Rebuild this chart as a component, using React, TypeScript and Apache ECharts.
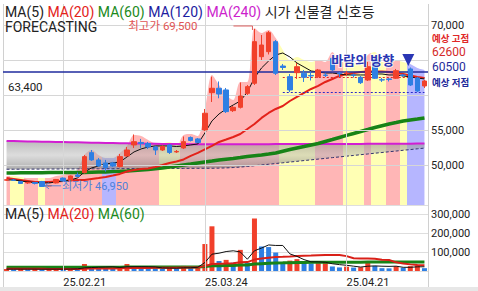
import React, { useEffect, useRef } from "react";
import * as echarts from "echarts";

const FONT = 'Roboto, "Noto Sans CJK KR", "Noto Sans", sans-serif';

const dates = [
  "25.02.11", "25.02.12", "25.02.13", "25.02.14", "25.02.17", "25.02.18", "25.02.19", "25.02.20",
  "25.02.21", "25.02.24", "25.02.25", "25.02.26", "25.02.27", "25.02.28",
  "25.03.04", "25.03.05", "25.03.06", "25.03.07", "25.03.10", "25.03.11", "25.03.12", "25.03.13", "25.03.14",
  "25.03.17", "25.03.18", "25.03.19", "25.03.20", "25.03.21", "25.03.24", "25.03.25", "25.03.26", "25.03.27",
  "25.03.28", "25.03.31", "25.04.01", "25.04.02", "25.04.03", "25.04.04", "25.04.07", "25.04.08", "25.04.09",
  "25.04.10", "25.04.11", "25.04.14", "25.04.15", "25.04.16", "25.04.17", "25.04.18", "25.04.21", "25.04.22",
  "25.04.23", "25.04.24", "25.04.25", "25.04.28", "25.04.29", "25.04.30", "25.05.02", "25.05.07", "25.05.08",
  "25.05.09",
];

// [open, close, low, high]
const ohlc: number[][] = [
  [47900, 47950, 47790, 48070], [47930, 47880, 47790, 48070], [47710, 47430, 47360, 47790],
  [47500, 47570, 47360, 47640], [47570, 47430, 47290, 47640], [47710, 47000, 46950, 47790],
  [47070, 47140, 46990, 47210], [47500, 48000, 47430, 48070], [48200, 47790, 47710, 48290],
  [47860, 48500, 47790, 48570], [48640, 48430, 48360, 49000], [48970, 51260, 48860, 51500],
  [51830, 50790, 50640, 52210], [50790, 49930, 49790, 51070], [50360, 49700, 49110, 50790],
  [50360, 49930, 49790, 50500], [49860, 51260, 49710, 51640], [51360, 52210, 51210, 52640],
  [52930, 53400, 52500, 54430], [53290, 53140, 52500, 53790], [53140, 52640, 52360, 53360],
  [52640, 52210, 51500, 52790], [52210, 52710, 52070, 52860], [52930, 51860, 51640, 53070],
  [51930, 52000, 51790, 52210], [52500, 53400, 52360, 54140], [54000, 53570, 53430, 54140],
  [53790, 53290, 53210, 53930], [55070, 57460, 54930, 58070], [60400, 61030, 59070, 62690],
  [61030, 60210, 59600, 62000], [60790, 57690, 57500, 61070], [57830, 58310, 57640, 58500],
  [58310, 59930, 58140, 61860], [60310, 61260, 60070, 61500], [61740, 67690, 61500, 69500],
  [65540, 67210, 65070, 68640], [66260, 68970, 65860, 69210], [67690, 63170, 62930, 67930],
  [64210, 64000, 63640, 64500], [62690, 60790, 60500, 63070], [63260, 64110, 62360, 64640],
  [63170, 62600, 61930, 63640], [62860, 62790, 62140, 63430], [62690, 63640, 62500, 63790],
  [62930, 62860, 62640, 63210], [65310, 63640, 63500, 65500], [63210, 63140, 62640, 63360],
  [63140, 63210, 62790, 63500], [62930, 62860, 62570, 63140], [62600, 61830, 61640, 62790],
  [62210, 64110, 62070, 64790], [65070, 62460, 62360, 65360], [62250, 62210, 61930, 62500],
  [62360, 62290, 62000, 62500], [62460, 63540, 62360, 63790], [62930, 62860, 62640, 63070],
  [63790, 61500, 61360, 64000], [62500, 60640, 60500, 62640], [61360, 62070, 61070, 62210],
];

const ma5 = [
  47930, 47930, 47790, 47640, 47570, 47500, 47500, 47640, 47790, 47930,
  48210, 49070, 49640, 49930, 50210, 50360, 50500, 51210, 51930, 52360,
  52640, 52790, 52790, 52790, 52710, 52790, 52930, 53070, 54640, 56360,
  57360, 58070, 58640, 59210, 60500, 62500, 63930, 64930, 65790, 66070,
  65500, 64640, 64070, 63500, 63360, 63210, 63210, 63070, 62930, 62930,
  62930, 62930, 63070, 63070, 62930, 62930, 62790, 62640, 62500, 62360,
];
const ma20 = [
  48210, 48070, 47930, 47790, 47640, 47640, 47640, 47710, 47790, 47860,
  47930, 47930, 48070, 48210, 48360, 48570, 48790, 49140, 49360, 49500,
  49570, 49790, 50070, 50360, 50570, 50860, 51360, 51790, 52290, 52790,
  53360, 53710, 54070, 54500, 55210, 55930, 56790, 57500, 58070, 58500,
  59210, 59790, 60360, 60930, 61360, 61930, 62360, 62790, 63070, 63210,
  63360, 63430, 63430, 63430, 63360, 63210, 63070, 62860, 62640, 62500,
];
const ma60 = [
  48930, 48930, 48950, 48960, 48970, 48970, 48980, 48990, 49000, 49000,
  49000, 49010, 49030, 49050, 49070, 49120, 49160, 49210, 49280, 49360,
  49430, 49540, 49640, 49790, 49930, 50070, 50210, 50360, 50500, 50640,
  50790, 50900, 51000, 51140, 51290, 51400, 51500, 51640, 51790, 52040,
  52290, 52500, 52710, 52930, 53140, 53430, 53710, 54000, 54290, 54570,
  54860, 55140, 55430, 55680, 55930, 56140, 56360, 56500, 56640, 56790,
];
const ma120 = [
  49460, 49460, 49470, 49470, 49480, 49480, 49490, 49490, 49500, 49500,
  49510, 49510, 49520, 49520, 49530, 49530, 49540, 49540, 49550, 49550,
  49560, 49560, 49570, 49570, 49580, 49580, 49590, 49590, 49600, 49600,
  49620, 49650, 49700, 49770, 49860, 49960, 50070, 50170, 50280, 50380,
  50490, 50590, 50700, 50800, 50910, 51010, 51120, 51220, 51330, 51430,
  51540, 51640, 51750, 51850, 51960, 52060, 52170, 52270, 52380, 52480,
];
const ma240 = [
  53500, 53480, 53460, 53440, 53420, 53400, 53380, 53360, 53340, 53320,
  53300, 53280, 53260, 53240, 53220, 53200, 53180, 53160, 53140, 53120,
  53100, 53090, 53080, 53070, 53060, 53050, 53040, 53040, 53030, 53030,
  53030, 53030, 53030, 53030, 53040, 53040, 53040, 53040, 53050, 53050,
  53050, 53050, 53060, 53060, 53060, 53070, 53070, 53070, 53080, 53080,
  53080, 53090, 53090, 53090, 53100, 53100, 53110, 53110, 53120, 53120,
];
// upper edge of the coloured signal area
const signalEnvelope = [
  48500, 48500, 48360, 48210, 48210, 48210, 48210, 48500, 48640, 48930,
  49360, 51500, 52210, 51500, 51070, 51070, 51790, 52790, 54360, 54210,
  53640, 53210, 53210, 53360, 52930, 54360, 54500, 54210, 57930, 62930,
  61500, 60070, 59360, 61930, 61930, 69640, 68930, 69360, 68210, 66500,
  65070, 65500, 65070, 64790, 65070, 64790, 66210, 64790, 64790, 64640,
  64360, 65790, 66210, 64790, 64790, 65070, 64790, 64500, 63930, 63640,
];
// [firstIndex, lastIndex, signal]
const signalSegments: [number, number, string][] = [
  [0, 0, "red"], [1, 2, "yellow"], [3, 4, "red"], [5, 5, "yellow"], [6, 13, "red"],
  [14, 15, "blue"], [16, 21, "red"], [22, 24, "yellow"], [25, 38, "red"], [39, 43, "yellow"],
  [44, 47, "red"], [48, 50, "yellow"], [51, 51, "red"], [52, 53, "yellow"], [54, 55, "red"],
  [56, 56, "yellow"], [57, 59, "blue"],
];

const volumes = [
  10000, 8000, 12000, 9000, 11000, 8000, 10000, 12000, 9000, 13000,
  12000, 37000, 20000, 19000, 18000, 17000, 20000, 37000, 22000, 18000,
  16000, 14000, 12000, 18000, 15000, 27000, 15000, 24000, 143000, 237000,
  53000, 59000, 44000, 112000, 44000, 278000, 130000, 127000, 98000, 44000,
  55000, 63000, 42000, 40000, 42000, 44000, 24000, 19000, 23000, 18000,
  20000, 47000, 27000, 15000, 14000, 25000, 17000, 26000, 29000, 15000,
];
const volMa5 = [
  10000, 10000, 10000, 10000, 10000, 9600, 10000, 10000, 10000, 10400,
  11200, 16600, 18200, 20200, 21200, 22200, 18800, 22200, 22800, 22800,
  22600, 21400, 16400, 15600, 15000, 17200, 17400, 19800, 44800, 89200,
  94400, 103200, 107200, 101000, 62400, 107400, 121600, 138200, 135400, 135400,
  90800, 77400, 60400, 48800, 48400, 46200, 38400, 33800, 30400, 25600,
  20800, 25400, 27000, 25400, 24600, 25600, 19600, 19400, 22200, 22400,
];
const volMa20 = [
  11900, 11700, 11700, 11550, 11500, 11300, 11200, 11200, 11050, 11100,
  11100, 12350, 12750, 13100, 13400, 13650, 14050, 15300, 15800, 16100,
  16400, 16700, 16700, 17150, 17350, 18300, 18550, 19150, 25850, 37050,
  39100, 40200, 41400, 46050, 47350, 60400, 65900, 70400, 74200, 75500,
  77450, 79900, 81400, 82500, 83850, 84700, 85150, 84900, 78900, 67950,
  66300, 65700, 64850, 60000, 58500, 45850, 40200, 35150, 31700, 30250,
];
const volMa60 = [
  20000, 20000, 20000, 20000, 20000, 20000, 20000, 20000, 20000, 20000,
  20000, 20000, 20500, 20500, 20500, 20500, 20500, 21000, 21000, 21000,
  21000, 21000, 21000, 21000, 21000, 21000, 21500, 21500, 23500, 27500,
  28300, 29200, 29800, 31600, 32200, 36800, 38900, 41000, 42600, 43200,
  44000, 44900, 45400, 45800, 46200, 46700, 46800, 46800, 46900, 46900,
  47000, 47500, 47700, 47700, 47600, 47800, 47800, 47900, 48100, 48000,
];

const labelDates = ["25.02.21", "25.03.24", "25.04.21"];
const priceGridLevels = [50000, 55000, 60000, 65000, 70000];
const priceAxisLabels = [70000, 55000, 50000];
const highIndex = 35;
const highPrice = 69500;
const lowIndex = 5;
const lowPrice = 46950;
const resistancePrice = 63400;
const expectedHigh = 62600;
const expectedLow = 60500;
const forecastFrom = 39;
const windText = "바람의 방향";
const windIndex = 57;

const fmt = (v: number) => v.toLocaleString("en-US");

export default function App() {
  const ref = useRef<HTMLDivElement>(null);

  useEffect(() => {
    const el = ref.current!;
    const chart = echarts.init(el, null, { renderer: "svg" });
    const RED = "#f1402b";
    const BLUE = "#2f7fe3";
    const signalColors: Record<string, string> = { red: "#ffb6b6", yellow: "#ffffb4", blue: "#b6b6ff" };
    const n = dates.length;
    const stops: { offset: number; color: string }[] = [];
    signalSegments.forEach(([a, b, k]) => {
      const s = a === 0 ? 0 : (a - 0.5) / (n - 1);
      const e = b === n - 1 ? 1 : (b + 0.5) / (n - 1);
      stops.push({ offset: s, color: signalColors[k] }, { offset: e, color: signalColors[k] });
    });
    const cloudDiff = ma240.map((v, i) => v - ma120[i]);
    const volData = volumes.map((v, i) => ({
      value: v,
      itemStyle: { color: i === 0 || v > volumes[i - 1] ? RED : BLUE },
    }));

    const option: any = {
      animation: false,
      textStyle: { fontFamily: FONT },
      grid: [
        { left: 3, right: 50, top: 4, height: 201, containLabel: false, outerBoundsMode: "none" },
        { left: 3, right: 50, top: 205, height: 66, containLabel: false, outerBoundsMode: "none" },
      ],
      xAxis: [
        {
          type: "category", gridIndex: 0, data: dates, boundaryGap: true,
          axisLine: { show: false }, axisTick: { show: false }, axisLabel: { show: false }, splitLine: { show: false },
        },
        {
          type: "category", gridIndex: 1, data: dates, boundaryGap: true,
          axisLine: { show: false }, axisTick: { show: false }, splitLine: { show: false },
          axisLabel: {
            show: true,
            interval: (_i: number, v: string) => labelDates.includes(v),
            align: "left", color: "#222", fontSize: 11, margin: 6, fontFamily: FONT,
          },
        },
      ],
      yAxis: [
        {
          type: "value", gridIndex: 0, position: "right", min: 44350, max: 73070, scale: true,
          axisLine: { show: false }, axisTick: { show: false }, axisLabel: { show: false }, splitLine: { show: false },
        },
        {
          type: "value", gridIndex: 1, position: "right", min: 0, max: 350000, interval: 100000,
          axisLine: { show: false }, axisTick: { show: false },
          splitLine: { show: true, lineStyle: { color: "#dedede", width: 1 } },
          axisLabel: {
            color: "#222", fontSize: 11, margin: 3, fontFamily: FONT,
            formatter: (v: number) => (v > 0 && v <= 300000 ? fmt(v) : ""),
          },
        },
      ],
      series: [
        {
          type: "line", xAxisIndex: 0, yAxisIndex: 0, data: signalEnvelope, smooth: 0.3,
          symbol: "none", silent: true, z: 1,
          lineStyle: { width: 0, opacity: 0 },
          areaStyle: { origin: "start", opacity: 1, color: new echarts.graphic.LinearGradient(0, 0, 1, 0, stops) },
          markLine: {
            silent: true, symbol: ["none", "none"], animation: false,
            lineStyle: { color: "#d6d6d6", width: 1, type: "solid" },
            label: { show: false },
            data: [
              ...priceGridLevels.map((v) => ({
                yAxis: v,
                label: {
                  show: priceAxisLabels.includes(v), position: "end", formatter: fmt(v),
                  color: "#222", fontSize: 11, fontFamily: FONT, distance: 3,
                },
              })),
              ...labelDates.map((d) => ({ xAxis: d })),
            ],
          },
        },
        {
          type: "line", xAxisIndex: 0, yAxisIndex: 0, data: ma120, stack: "cloud", symbol: "none", z: 3,
          silent: true, lineStyle: { color: "#34346e", width: 1, type: [3, 2] },
        },
        {
          type: "line", xAxisIndex: 0, yAxisIndex: 0, data: cloudDiff, stack: "cloud", symbol: "none", z: 2,
          silent: true, lineStyle: { width: 0, opacity: 0 },
          areaStyle: {
            opacity: 1,
            color: new echarts.graphic.LinearGradient(0, 0, 0, 1, [
              { offset: 0, color: "rgba(140,140,140,0.6)" },
              { offset: 0.5, color: "rgba(185,185,185,0.5)" },
              { offset: 1, color: "rgba(120,120,120,0.6)" },
            ]),
          },
        },
        {
          type: "line", xAxisIndex: 0, yAxisIndex: 0, data: ma240, symbol: "none", z: 4, silent: true,
          lineStyle: { color: "#d21ed2", width: 2 },
        },
        {
          type: "line", xAxisIndex: 0, yAxisIndex: 0, data: ma60, symbol: "none", z: 4, silent: true,
          lineStyle: { color: "#178317", width: 3.5 },
        },
        {
          type: "line", xAxisIndex: 0, yAxisIndex: 0, data: ma20, symbol: "none", z: 4, silent: true,
          lineStyle: { color: "#e3221a", width: 2 },
        },
        {
          type: "line", xAxisIndex: 0, yAxisIndex: 0, data: ma5, symbol: "none", z: 4, silent: true,
          lineStyle: { color: "#111", width: 1 },
          markLine: {
            silent: true, symbol: ["none", "none"], animation: false, label: { show: false },
            data: [
              { yAxis: resistancePrice, lineStyle: { color: "#1f2b9e", width: 1.6, type: "solid" } },
              [
                { coord: [dates[forecastFrom], expectedHigh], lineStyle: { color: "#e02a2a", width: 1, type: [2, 2] } },
                { coord: [dates[n - 1], expectedHigh], lineStyle: { color: "#e02a2a", width: 1, type: [2, 2] } },
              ],
              [
                { coord: [dates[forecastFrom], expectedLow], lineStyle: { color: "#2a2ac8", width: 1, type: [2, 2] } },
                { coord: [dates[n - 1], expectedLow], lineStyle: { color: "#2a2ac8", width: 1, type: [2, 2] } },
              ],
            ],
          },
        },
        {
          type: "candlestick", xAxisIndex: 0, yAxisIndex: 0, data: ohlc, barWidth: 5, z: 5, silent: true,
          itemStyle: { color: RED, color0: BLUE, borderColor: RED, borderColor0: BLUE, borderWidth: 1 },
        },
        {
          type: "bar", xAxisIndex: 1, yAxisIndex: 1, data: volData, barWidth: 5, z: 3, silent: true,
          markLine: {
            silent: true, symbol: ["none", "none"], animation: false, label: { show: false },
            lineStyle: { color: "#d6d6d6", width: 1, type: "solid" },
            data: labelDates.map((d) => ({ xAxis: d })),
          },
        },
        {
          type: "line", xAxisIndex: 1, yAxisIndex: 1, data: volMa60, symbol: "none", z: 4, silent: true,
          lineStyle: { color: "#178317", width: 3 },
        },
        {
          type: "line", xAxisIndex: 1, yAxisIndex: 1, data: volMa20, symbol: "none", z: 4, silent: true,
          lineStyle: { color: "#d92018", width: 2 },
        },
        {
          type: "line", xAxisIndex: 1, yAxisIndex: 1, data: volMa5, symbol: "none", z: 4, silent: true,
          lineStyle: { color: "#111", width: 1 },
        },
      ],
    };
    chart.setOption(option);

    const toPx = (i: number, v: number) =>
      chart.convertToPixel({ xAxisIndex: 0, yAxisIndex: 0 }, [dates[i], v]) as number[];
    const hp = toPx(highIndex, highPrice);
    const lp = toPx(lowIndex, lowPrice);
    const wp = toPx(windIndex, ohlc[windIndex][3]);

    const legendRich = {
      k: { fill: "#222", fontSize: 14, lineHeight: 14, fontFamily: FONT },
      r: { fill: "#e3221a", fontSize: 14, lineHeight: 14, fontFamily: FONT },
      g: { fill: "#1b8a1b", fontSize: 14, lineHeight: 14, fontFamily: FONT },
      b: { fill: "#1c1ca0", fontSize: 14, lineHeight: 14, fontFamily: FONT },
      m: { fill: "#cc1fcc", fontSize: 14, lineHeight: 14, fontFamily: FONT },
    };

    const elements: any[] = [
      { type: "rect", shape: { x: 0, y: 287, width: 478, height: 4 }, style: { fill: "#e7e7e7" }, silent: true },
      { type: "line", shape: { x1: 3.5, y1: 4, x2: 3.5, y2: 287 }, style: { stroke: "#d0d0d0", lineWidth: 1 }, silent: true },
      { type: "line", shape: { x1: 428.5, y1: 4, x2: 428.5, y2: 287 }, style: { stroke: "#d0d0d0", lineWidth: 1 }, silent: true },
      {
        type: "text", x: 5, y: 12, z: 50, silent: true,
        style: {
          text: "{k|MA(5)} {r|MA(20)} {g|MA(60)} {b|MA(120)} {m|MA(240)} {k|시가 신물결 신호등}",
          rich: legendRich, fontSize: 14, lineHeight: 14, fontFamily: FONT, verticalAlign: "middle", align: "left",
        },
      },
      {
        type: "text", x: 5, y: 26.5, z: 50, silent: true,
        style: { text: "FORECASTING", fill: "#222", fontSize: 14, lineHeight: 14, fontFamily: FONT, verticalAlign: "middle", align: "left" },
      },
      {
        type: "text", x: hp[0] - 57, y: hp[1] - 3, z: 50, silent: true,
        style: { text: "최고가 " + fmt(highPrice), fill: "#e05555", fontSize: 11.5, fontFamily: FONT, verticalAlign: "middle", align: "right" },
      },
      {
        type: "polyline", z: 50, silent: true,
        shape: { points: [[hp[0] - 21, hp[1] - 3], [hp[0] - 2, hp[1] - 3], [hp[0] - 2, hp[1] + 1]] },
        style: { stroke: "#e06060", lineWidth: 1, fill: null },
      },
      {
        type: "line", z: 50, silent: true,
        shape: { x1: lp[0] + 19, y1: lp[1] - 1, x2: lp[0] + 3, y2: lp[1] - 1 },
        style: { stroke: "#5a86d8", lineWidth: 1 },
      },
      {
        type: "polyline", z: 50, silent: true,
        shape: { points: [[lp[0] + 7, lp[1] - 4], [lp[0] + 3, lp[1] - 1], [lp[0] + 7, lp[1] + 2]] },
        style: { stroke: "#5a86d8", lineWidth: 1, fill: null },
      },
      {
        type: "text", x: lp[0] + 20, y: lp[1], z: 50, silent: true,
        style: { text: "최저가 " + fmt(lowPrice), fill: "#5080d8", fontSize: 11, fontFamily: FONT, verticalAlign: "middle", align: "left" },
      },
      {
        type: "text", x: 8, y: 87, z: 50, silent: true,
        style: { text: fmt(resistancePrice), fill: "#222", fontSize: 11.5, fontFamily: FONT, verticalAlign: "middle", align: "left" },
      },
      {
        type: "text", x: 432, y: 38, z: 50, silent: true,
        style: { text: "예상 고점", fill: "#e02828", fontSize: 9.5, fontWeight: "bold", fontFamily: FONT, verticalAlign: "middle", align: "left" },
      },
      {
        type: "text", x: 432, y: 52, z: 50, silent: true,
        style: { text: String(expectedHigh), fill: "#d42a2a", fontSize: 12, fontFamily: FONT, verticalAlign: "middle", align: "left" },
      },
      {
        type: "text", x: 432, y: 67, z: 50, silent: true,
        style: { text: String(expectedLow), fill: "#1e2a9a", fontSize: 12, fontFamily: FONT, verticalAlign: "middle", align: "left" },
      },
      {
        type: "text", x: 432, y: 82, z: 50, silent: true,
        style: { text: "예상 저점", fill: "#1e2a9a", fontSize: 9.5, fontWeight: "bold", fontFamily: FONT, verticalAlign: "middle", align: "left" },
      },
      {
        type: "text", x: wp[0] - 16, y: 60, z: 50, silent: true,
        style: {
          text: windText, fill: "#2a36b4", fontSize: 13, fontWeight: "bold", fontFamily: FONT,
          verticalAlign: "middle", align: "right", stroke: "rgba(255,255,255,0.7)", lineWidth: 2,
        },
      },
      {
        type: "polygon", z: 50, silent: true,
        shape: { points: [[wp[0] - 8, 54], [wp[0] + 4, 54], [wp[0] - 2, 66]] },
        style: { fill: "#2a36b4" },
      },
      {
        type: "text", x: 5, y: 214, z: 50, silent: true,
        style: {
          text: "{k|MA(5)} {r|MA(20)} {g|MA(60)}",
          rich: legendRich, fontSize: 14, lineHeight: 14, fontFamily: FONT, verticalAlign: "middle", align: "left",
        },
      },
    ];
    chart.setOption({ graphic: { elements } });

    return () => chart.dispose();
  }, []);

  return (
    <div
      ref={ref}
      style={{ position: "fixed", left: 0, top: 0, width: 478, height: 291, background: "#fff" }}
    />
  );
}
